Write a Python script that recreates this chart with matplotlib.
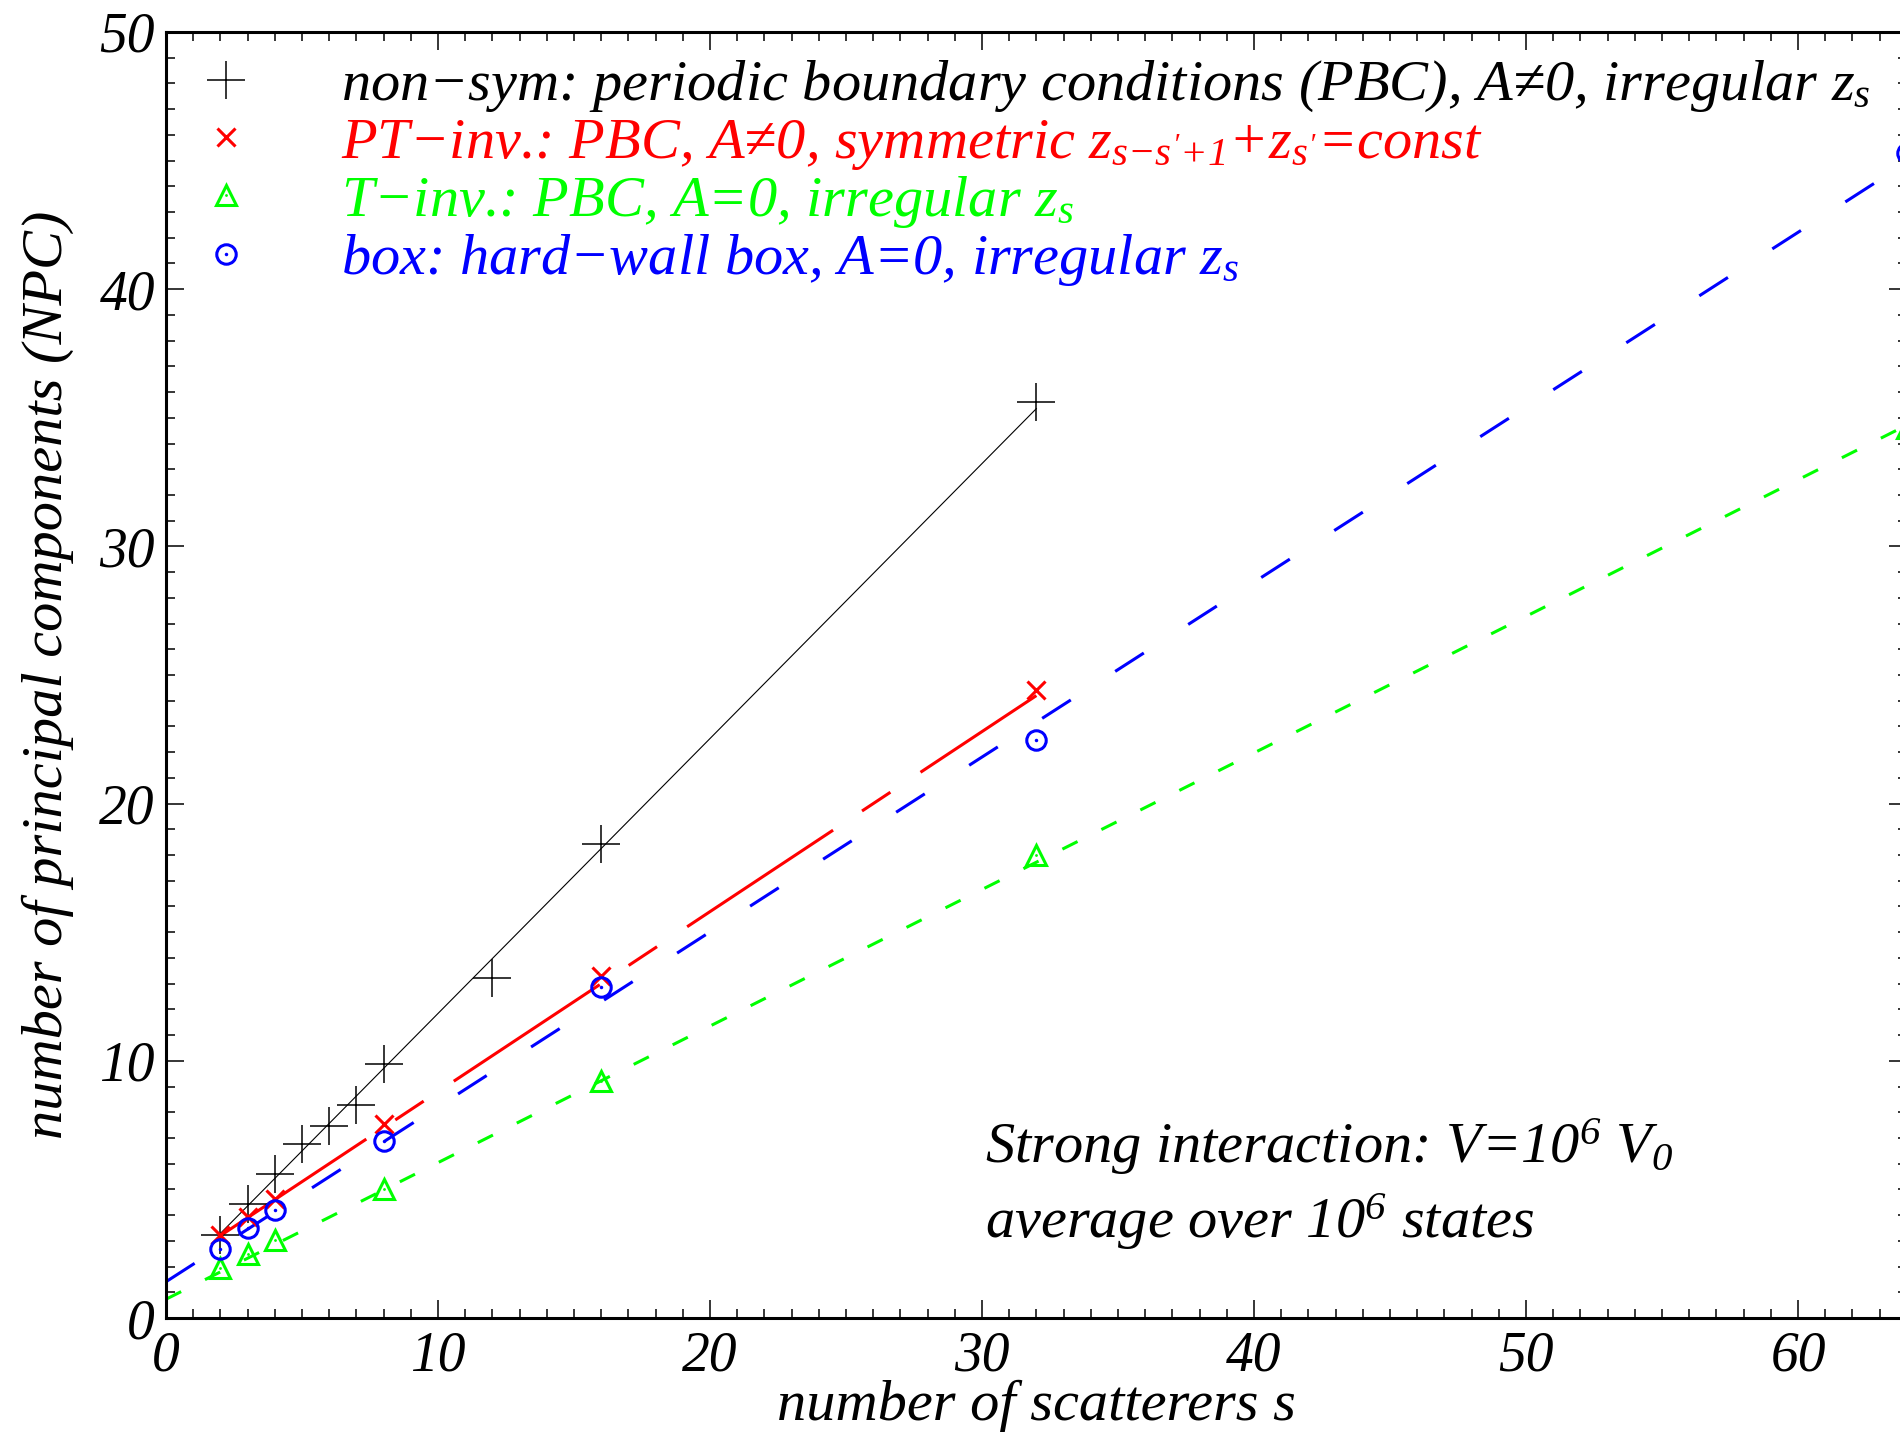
import numpy as np
import matplotlib
matplotlib.use("Agg")
import matplotlib.pyplot as plt
from matplotlib.legend_handler import HandlerTuple

plt.rcParams['font.family'] = ['Liberation Serif', 'DejaVu Serif']
plt.rcParams['font.style'] = 'italic'
plt.rcParams['mathtext.fontset'] = 'custom'
plt.rcParams['mathtext.rm'] = 'Liberation Serif:italic'
plt.rcParams['mathtext.it'] = 'Liberation Serif:italic'
plt.rcParams['lines.scale_dashes'] = False

# data
s_nonsym = [2, 3, 4, 5, 6, 7, 8, 12, 16, 32]
npc_nonsym = [3.22, 4.45, 5.59, 6.78, 7.48, 8.29, 9.86, 13.2, 18.42, 35.6]

s_pt = [2, 3, 4, 8, 16, 32]
npc_pt = [3.22, 3.94, 4.62, 7.54, 13.28, 24.41]

s_t = [2, 3, 4, 8, 16, 32, 64]
npc_t = [1.93, 2.49, 3.04, 5.02, 9.22, 18.0, 34.6]

s_box = [2, 3, 4, 8, 16, 32, 64]
npc_box = [2.68, 3.49, 4.18, 6.90, 12.87, 22.46, 45.3]

# linear fits: intercept, slope, x range
fit_nonsym = [1.15, 1.069, 2, 32]
fit_pt = [1.80, 0.700, 2, 32]
fit_t = [0.73, 0.531, 0, 64]
fit_box = [1.41, 0.680, 0, 64]

labels = [
    "non\u2212sym: periodic boundary conditions (PBC), A\u22600, irregular $z_s$",
    "PT\u2212inv.: PBC, A\u22600, symmetric $z_{s{-}s'{+}1}$+$z_{s'}$=const",
    "T\u2212inv.: PBC, A=0, irregular $z_s$",
    "box: hard\u2212wall box, A=0, irregular $z_s$",
]

RED, GREEN, BLUE = '#ff0000', '#00ff00', '#0000ff'
FS = 40
FS_TXT = 42

fig = plt.figure(figsize=(19, 14.33), dpi=100)
ax = fig.add_axes([0.08737, 0.08025, 0.91621, 0.89742])


def fit_line(p, **kw):
    x = np.array([p[2], p[3]])
    return ax.plot(x, p[0] + p[1] * x, **kw)[0]


fit_line(fit_nonsym, color='black', lw=0.8)
l = fit_line(fit_pt, color=RED, lw=2.2)
l.set_dashes([126, 25, 24.5, 26])
l = fit_line(fit_box, color=BLUE, lw=2.2)
l.set_dashes([24.5, 38])
l = fit_line(fit_t, color=GREEN, lw=2.2)
l.set_dashes([12.2, 19.2])

h1, = ax.plot(s_nonsym, npc_nonsym, ls='none', marker='+', ms=27, mew=1.1,
              color='black', clip_on=False)
h2, = ax.plot(s_pt, npc_pt, ls='none', marker='x', ms=13, mew=2.2,
              color=RED, clip_on=False)
h3, = ax.plot(s_t, npc_t, ls='none', marker='^', ms=14, mew=2.2,
              mfc='none', color=GREEN, clip_on=False)
h3d, = ax.plot(s_t, npc_t, ls='none', marker='o', ms=2, mew=0,
               color=GREEN, clip_on=False)
h4, = ax.plot(s_box, npc_box, ls='none', marker='o', ms=14, mew=2.2,
              mfc='none', color=BLUE, clip_on=False)
h4d, = ax.plot(s_box, npc_box, ls='none', marker='o', ms=2.5, mew=0,
               color=BLUE, clip_on=False)

leg = ax.legend([h1, h2, (h3, h3d), (h4, h4d)], labels,
                handler_map={tuple: HandlerTuple(ndivide=1)},
                loc='upper left', bbox_to_anchor=(0.0178, 0.979),
                frameon=False, fontsize=FS_TXT, handlelength=1.0,
                handletextpad=1.47, labelspacing=0.04, borderpad=0,
                borderaxespad=0, labelcolor=['black', RED, GREEN, BLUE])

ax.text(30.1, 5.22,
        "Strong interaction: V=10$^6$ V$_0$\naverage over 10$^6$ states",
        fontsize=FS_TXT, va='center', ha='left', linespacing=1.3)

ax.set_xlim(0, 64)
ax.set_ylim(0, 50)
ax.set_xticks(np.arange(0, 61, 10))
ax.set_yticks(np.arange(0, 51, 10))
ax.set_xticks(np.arange(0, 64, 1), minor=True)
ax.set_yticks(np.arange(0, 51, 1), minor=True)
ax.tick_params(which='both', direction='in', top=True, right=True,
               labelsize=FS, width=1.1)
ax.tick_params(which='major', length=13)
ax.tick_params(which='minor', length=6.5)
ax.tick_params(axis='x', pad=9)
ax.tick_params(axis='y', pad=8)
for sp in ax.spines.values():
    sp.set_linewidth(2.2)

ax.set_xlabel("number of scatterers s", fontsize=FS_TXT, labelpad=-2)
ax.set_ylabel("number of principal components (NPC)", fontsize=FS_TXT,
              labelpad=18)

fig.savefig("out.png", dpi=100)
